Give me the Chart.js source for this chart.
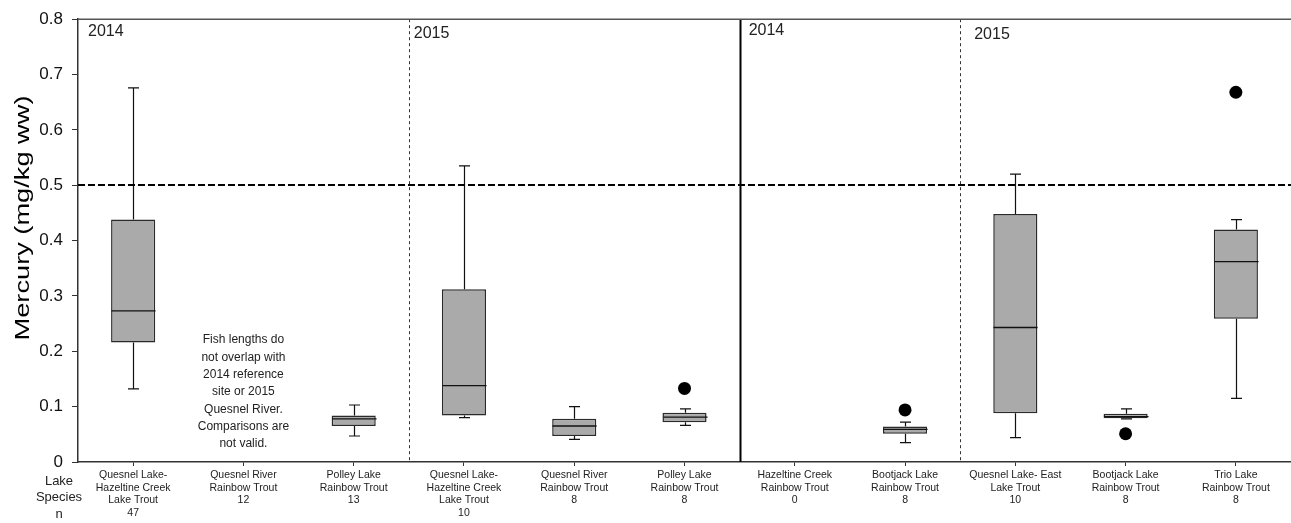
<!DOCTYPE html>
<html>
<head>
<meta charset="utf-8">
<title>Mercury in fish</title>
<script src="https://cdn.jsdelivr.net/npm/chart.js@4.4.1/dist/chart.umd.min.js"></script>
<style>
  body { margin: 0; background: #fff; }
  #wrap { width: 1291px; height: 523px; }
</style>
</head>
<body>
<div id="wrap"><canvas id="hgChart" width="1291" height="523"></canvas></div>
<script>
// sites, species and sample sizes along the x axis
var lakes = [
    ['Quesnel Lake-', 'Hazeltine Creek'],
    ['Quesnel River'],
    ['Polley Lake'],
    ['Quesnel Lake-', 'Hazeltine Creek'],
    ['Quesnel River'],
    ['Polley Lake'],
    ['Hazeltine Creek'],
    ['Bootjack Lake'],
    ['Quesnel Lake- East'],
    ['Bootjack Lake'],
    ['Trio Lake']
];
var species = ['Lake Trout', 'Rainbow Trout', 'Rainbow Trout', 'Lake Trout', 'Rainbow Trout', 'Rainbow Trout',
    'Rainbow Trout', 'Rainbow Trout', 'Lake Trout', 'Rainbow Trout', 'Rainbow Trout'];
var counts = [47, 12, 13, 10, 8, 8, 0, 8, 10, 8, 8];

// box plot summary (mg/kg ww), null where there is no box
var whiskerLow  = [0.132, null, 0.047, 0.080, 0.041, 0.066, null, 0.035, 0.044, 0.078, 0.115];
var q1          = [0.216, null, 0.065, 0.084, 0.047, 0.072, null, 0.051, 0.088, 0.079, 0.259];
var median      = [0.273, null, 0.078, 0.138, 0.065, 0.081, null, 0.059, 0.243, 0.082, 0.362];
var q3          = [0.438, null, 0.084, 0.312, 0.078, 0.089, null, 0.064, 0.448, 0.087, 0.420];
var whiskerHigh = [0.676, null, 0.103, 0.535, 0.100, 0.096, null, 0.072, 0.520, 0.096, 0.438];
var outliers    = [null, null, null, null, null, 0.133, null, 0.094, null, 0.051, 0.668];

var guideline = 0.5;
var yearLabels = [
    { text: '2014', after: -1, dx: 10, y: 32 },
    { text: '2015', after: 2, dx: 5, y: 34 },
    { text: '2014', after: 5, dx: 9, y: 31 },
    { text: '2015', after: 7, dx: 14, y: 35 }
];
var noteLines = ['Fish lengths do', 'not overlap with', '2014 reference', 'site or 2015',
    'Quesnel River.', 'Comparisons are', 'not valid.'];

var labels = lakes.map(function (l, i) {
    return l.concat([species[i], String(counts[i])]);
});
var boxes = q1.map(function (v, i) {
    return v === null ? null : [v, q3[i]];
});

var FONT = "'Liberation Sans', Arial, sans-serif";

var boxParts = {
    id: 'boxParts',
    afterDatasetsDraw: function (chart) {
        var ctx = chart.ctx;
        var x = chart.scales.x, y = chart.scales.y;
        var area = chart.chartArea;
        var bars = chart.getDatasetMeta(0).data;
        ctx.save();

        // whiskers, caps and medians
        for (var i = 0; i < labels.length; i++) {
            if (q1[i] === null) continue;
            var cx = Math.round(x.getPixelForValue(i)) + 0.5;
            var half = bars[i].width / 2;
            ctx.strokeStyle = '#111';
            ctx.lineWidth = 1.2;
            ctx.beginPath();
            ctx.moveTo(cx, y.getPixelForValue(q3[i]));
            ctx.lineTo(cx, y.getPixelForValue(whiskerHigh[i]));
            ctx.moveTo(cx, y.getPixelForValue(q1[i]));
            ctx.lineTo(cx, y.getPixelForValue(whiskerLow[i]));
            ctx.moveTo(cx - 5.5, y.getPixelForValue(whiskerHigh[i]));
            ctx.lineTo(cx + 5.5, y.getPixelForValue(whiskerHigh[i]));
            ctx.moveTo(cx - 5.5, y.getPixelForValue(whiskerLow[i]));
            ctx.lineTo(cx + 5.5, y.getPixelForValue(whiskerLow[i]));
            ctx.stroke();
            ctx.lineWidth = 1.3;
            ctx.beginPath();
            ctx.moveTo(cx - half, y.getPixelForValue(median[i]));
            ctx.lineTo(cx + half, y.getPixelForValue(median[i]));
            ctx.stroke();
        }

        // 0.5 mg/kg guideline
        ctx.strokeStyle = '#000';
        ctx.lineWidth = 2;
        ctx.setLineDash([7, 3]);
        ctx.beginPath();
        var gy = Math.round(y.getPixelForValue(guideline));
        ctx.moveTo(area.left, gy);
        ctx.lineTo(area.right, gy);
        ctx.stroke();

        // year / region separators
        var seps = [{ after: 2, solid: false }, { after: 5, solid: true }, { after: 7, solid: false }];
        seps.forEach(function (s) {
            var sx = Math.round((x.getPixelForValue(s.after) + x.getPixelForValue(s.after + 1)) / 2) + 0.5;
            ctx.setLineDash(s.solid ? [] : [3, 3]);
            ctx.lineWidth = s.solid ? 2 : 1;
            ctx.strokeStyle = s.solid ? '#000' : '#333';
            ctx.beginPath();
            ctx.moveTo(sx, area.top);
            ctx.lineTo(sx, area.bottom);
            ctx.stroke();
        });
        ctx.setLineDash([]);

        // top frame line
        ctx.strokeStyle = '#555';
        ctx.lineWidth = 1.5;
        ctx.beginPath();
        ctx.moveTo(area.left, area.top);
        ctx.lineTo(area.right, area.top);
        ctx.stroke();
        ctx.restore();
    },
    afterDraw: function (chart) {
        var ctx = chart.ctx;
        var x = chart.scales.x;
        var area = chart.chartArea;
        ctx.save();
        ctx.fillStyle = '#222';
        ctx.textBaseline = 'middle';

        ctx.font = '16px ' + FONT;
        ctx.textAlign = 'left';
        yearLabels.forEach(function (yl) {
            var lx = yl.after < 0 ? area.left :
                (x.getPixelForValue(yl.after) + x.getPixelForValue(yl.after + 1)) / 2;
            ctx.fillText(yl.text, lx + yl.dx, yl.y);
        });

        // note in the empty Quesnel River 2014 slot
        ctx.font = '12px ' + FONT;
        ctx.textAlign = 'center';
        var nx = x.getPixelForValue(1);
        noteLines.forEach(function (t, k) {
            ctx.fillText(t, nx, 340 + k * 17.3);
        });

        // row captions for the x labels
        ctx.font = '13px ' + FONT;
        ['Lake', 'Species', 'n'].forEach(function (t, k) {
            ctx.fillText(t, 59, 481 + k * 16.5);
        });

        // y axis title, stretched along its length
        ctx.font = '21px ' + FONT;
        ctx.fillStyle = '#000';
        var title = 'Mercury (mg/kg ww)';
        var w = ctx.measureText(title).width;
        ctx.translate(23, 218);
        ctx.rotate(-Math.PI / 2);
        ctx.scale(245 / w, 1);
        ctx.fillText(title, 0, 0);
        ctx.restore();
    }
};

var ctx = document.getElementById('hgChart').getContext('2d');
var chart = new Chart(ctx, {
    type: 'bar',
    data: {
        labels: labels,
        datasets: [{
            label: 'IQR',
            data: boxes,
            backgroundColor: '#aaaaaa',
            borderColor: '#2a2a2a',
            borderWidth: 1.5,
            borderSkipped: false,
            barPercentage: 0.4,
            categoryPercentage: 1
        }, {
            type: 'line',
            label: 'Outliers',
            data: outliers,
            showLine: false,
            pointRadius: 6.5,
            pointBackgroundColor: '#000',
            pointBorderColor: '#000',
            pointBorderWidth: 0
        }]
    },
    options: {
        responsive: false,
        animation: false,
        layout: { autoPadding: false, padding: { top: 16, right: 0, left: 0, bottom: 0 } },
        plugins: {
            legend: { display: false },
            tooltip: { enabled: false }
        },
        scales: {
            x: {
                offset: true,
                grid: { offset: false, drawOnChartArea: false, drawTicks: true, tickLength: 4, color: '#333' },
                border: { color: '#333', width: 1.5 },
                ticks: {
                    autoSkip: false,
                    maxRotation: 0,
                    padding: 3,
                    color: '#222',
                    font: { family: FONT, size: 10.5, lineHeight: 1.2 }
                },
                afterFit: function (s) {
                    s.height = 61;
                    s.paddingLeft = 0;
                    s.paddingRight = 0;
                }
            },
            y: {
                min: 0,
                max: 0.8,
                grid: { drawOnChartArea: false, drawTicks: true, tickLength: 6, color: '#333' },
                border: { color: '#333', width: 1.5 },
                ticks: {
                    stepSize: 0.1,
                    padding: 9,
                    color: '#111',
                    font: { family: FONT, size: 17 },
                    callback: function (v) { return v === 0 ? '0' : v.toFixed(1); }
                },
                afterFit: function (s) { s.width = 78; }
            }
        }
    },
    plugins: [boxParts]
});
</script>
</body>
</html>
